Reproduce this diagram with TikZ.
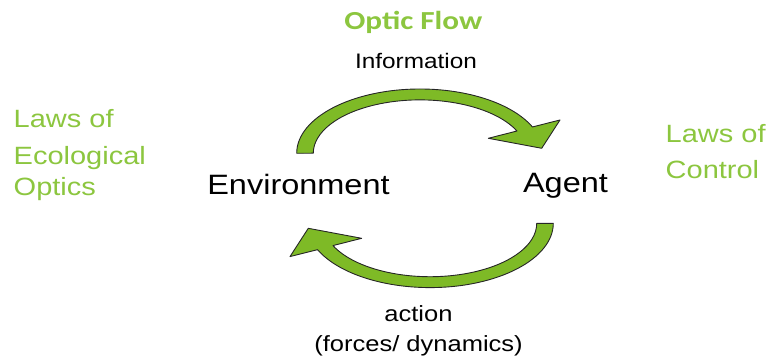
\documentclass[tikz,border=0pt]{standalone}
\usepackage{fontspec}
\setmainfont[FakeStretch=1.16]{Liberation Sans}
\newfontfamily\flowfont[FakeStretch=1.2]{Carlito}
\usepackage{tikz}
\usetikzlibrary{calc}

\definecolor{arrowgreen}{RGB}{126,186,38}
\definecolor{lawgreen}{RGB}{140,198,63}

\tikzset{
  cyclearrow/.pic={
    \filldraw[fill=arrowgreen,draw=black!85,line width=0.9pt,line join=round]
      (-123.3,0) arc[start angle=180,end angle=335.8,x radius=123.3,y radius=64.3]
      -- (140,-33.3) -- (121.7,-5) -- (68.3,-15) -- (97,-22.3)
      arc[start angle=335.4,end angle=180,x radius=106.7,y radius=53.3] -- cycle;
  },
  greentext/.style={text=lawgreen,font=\fontsize{25}{36}\selectfont,align=left,inner sep=0pt},
  blacktext/.style={font=\fontsize{28}{32}\selectfont,inner sep=0pt},
  smalltext/.style={font=\fontsize{22}{29.5}\selectfont,align=center,inner sep=0pt}
}

\begin{document}
\begin{tikzpicture}[x=1pt,y=-1pt]
  \useasboundingbox (0,0) rectangle (772,358);
  \coordinate (top) at (420,153.3);
  \coordinate (bot) at (430,223.3);

  \pic at (top) {cyclearrow};
  \pic[rotate=180] at (bot) {cyclearrow};

  \node[anchor=base,inner sep=0pt,text=lawgreen,font=\flowfont\bfseries\fontsize{26}{30}\selectfont] (flow) at (413.3,29.3) {Optic Flow};
  \node[smalltext,anchor=base,font=\fontsize{21}{25}\selectfont] (info) at (416,68.3) {Information};

  \node[blacktext,anchor=base] (env) at (298.5,195) {Environment};
  \node[blacktext,anchor=base] (agent) at (565.5,193) {Agent};

  \node[greentext,anchor=base west] (ecol) at (13.5,196) {Laws of\\[1.7pt]Ecological\\[-5pt]Optics};
  \node[greentext,anchor=base west] (ctrl) at (665.5,179) {Laws of\\Control};

  \node[smalltext,anchor=base] (act) at (418.5,351.5) {action\\(forces/ dynamics)};
\end{tikzpicture}
\end{document}
